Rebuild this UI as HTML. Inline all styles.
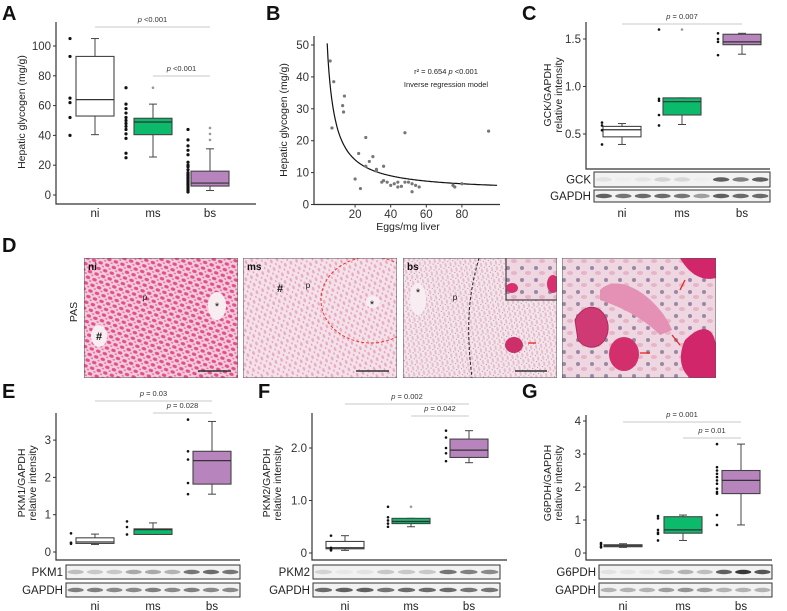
<!DOCTYPE html>
<html><head><meta charset="utf-8"><style>
html,body{margin:0;padding:0;background:#fff}
svg{display:block;font-family:"Liberation Sans",Arial,sans-serif}
</style></head><body>
<svg id="fig" width="787" height="611" viewBox="0 0 787 611" xmlns="http://www.w3.org/2000/svg">
<defs>
<pattern id="patNi" width="7" height="6" patternUnits="userSpaceOnUse" patternTransform="rotate(20)">
<rect width="7" height="6" fill="#f4cddd"/>
<ellipse cx="2.5" cy="2.5" rx="2.3" ry="1.6" fill="#e2508c"/>
<ellipse cx="6" cy="5.2" rx="1.3" ry="0.9" fill="#ea78a5"/>
</pattern>
<pattern id="patMs" width="8" height="6" patternUnits="userSpaceOnUse" patternTransform="rotate(70)">
<rect width="8" height="6" fill="#f4e2e9"/>
<ellipse cx="2.5" cy="2.5" rx="2" ry="1.2" fill="#eca9c4"/>
<ellipse cx="6.5" cy="5" rx="1.2" ry="0.8" fill="#e898ba"/>
</pattern>
<pattern id="patBs" width="6" height="5" patternUnits="userSpaceOnUse" patternTransform="rotate(80)">
<rect width="6" height="5" fill="#f5e6ec"/>
<ellipse cx="2.5" cy="2.2" rx="2.2" ry="1.1" fill="#e8bccd"/>
<circle cx="5.3" cy="4.4" r="0.5" fill="#8a6a80"/>
</pattern>
<pattern id="patZoom" width="14" height="12" patternUnits="userSpaceOnUse">
<rect width="14" height="12" fill="#eed7e1"/>
<circle cx="4" cy="4" r="2" fill="#9b86a8"/>
<ellipse cx="10" cy="9" rx="3" ry="2" fill="#e6b3c8"/>
</pattern>
<clipPath id="clip0"><rect x="84" y="258" width="154" height="120"/></clipPath>
<clipPath id="clip1"><rect x="243" y="258" width="154" height="120"/></clipPath>
<clipPath id="clip2"><rect x="403" y="258" width="154" height="120"/></clipPath>
<clipPath id="clip3"><rect x="562" y="258" width="154" height="120"/></clipPath>
</defs>
</svg>
<script>
// ---------- Panel A data ----------
const groups = ['ni','ms','bs'];
const aStats = [[40.5,53,64,93,105],[25.5,40.5,49,51.5,61],[3,6,8,16,31]];
const aOutliers = [[],[72],[37,41,45]];
const aPoints = [[105,93,65,62,52,40],[72,61,58,55,52,50,48,46,44,41,38,28,25],[44,37,33,30,27,22,20,19,17,15,14,13,12,11,10,9,8,7,6,5,4,3,2]];
const aTicks = [0,20,40,60,80,100];
// ---------- Panel B data ----------
const bEggs = [6,7,8,13,13.5,14,20,22,23,26,26,28,30,32,32,35,36,36,38,40,42,44,44,46,48,48,50,52,52,54,56,75,76,80,95];
const bGly = [45,24,38.5,31,29,34,8,16,5,21,12,13.5,15,11,10.5,7,7.5,12,7,6,6.5,7,5.5,5.7,22.5,7,7,6.5,4,6,5.5,6,5.5,6.5,23];
const bXTicks = [20,40,60,80];
const bYTicks = [0,10,20,30,40,50];
const bFitA = 4, bFitB = 200;
// ---------- Panel C data ----------
const cStats = [[0.39,0.47,0.545,0.58,0.61],[0.6,0.7,0.84,0.88,0.88],[1.34,1.44,1.47,1.55,1.56]];
const cOutliers = [[],[1.6],[]];
const cPoints = [[0.62,0.59,0.54,0.39],[1.6,0.87,0.85,0.70,0.59],[1.56,1.50,1.47,1.33]];
const cTicks = [0.5,1.0,1.5];
const cBandGCK = [0.08,0.02,0.06,0.15,0.12,0.02,0.7,0.55,0.7];
const cBandGAPDH = [0.7,0.6,0.65,0.65,0.6,0.4,0.7,0.65,0.65];
// ---------- Panel E data ----------
const eStats = [[0.2,0.23,0.27,0.38,0.48],[0.47,0.47,0.6,0.62,0.78],[1.55,1.82,2.45,2.7,3.5]];
const ePoints = [[0.5,0.25,0.22],[0.82,0.67,0.47],[3.55,2.7,2.48,1.85,1.55]];
const eTicks = [0,1,2,3];
const eBandPKM1 = [0.25,0.2,0.2,0.35,0.35,0.3,0.6,0.65,0.6];
const eBandGAPDH = [0.55,0.55,0.5,0.5,0.55,0.5,0.55,0.5,0.5];
// ---------- Panel F data ----------
const fStats = [[0.05,0.08,0.1,0.22,0.33],[0.5,0.56,0.6,0.66,0.66],[1.72,1.82,1.96,2.17,2.33]];
const fOutliers = [[],[0.88],[]];
const fPoints = [[0.33,0.1,0.07,0.05],[0.88,0.68,0.62,0.56,0.5],[2.33,2.2,2.0,1.9,1.75]];
const fTicks = [0,1.0,2.0];
const fTickLabels = ['0','1.0','2.0'];
const fBandPKM2 = [0.15,0.05,0.08,0.2,0.2,0.2,0.6,0.55,0.5];
const fBandGAPDH = [0.65,0.7,0.7,0.6,0.65,0.65,0.65,0.6,0.6];
// ---------- Panel G data ----------
const gStats = [[0.17,0.19,0.22,0.25,0.28],[0.38,0.6,0.7,1.1,1.15],[0.85,1.8,2.2,2.5,3.3]];
const gPoints = [[0.3,0.26,0.2,0.17],[1.12,1.05,0.7,0.62,0.58,0.38],[3.3,2.6,2.5,2.4,2.3,2.2,2.1,1.95,1.85,1.8,1.15,0.85]];
const gTicks = [0,1,2,3,4];
const gBandG6 = [0.08,0.06,0.06,0.2,0.3,0.25,0.7,0.9,0.75];
const gBandGAPDH = [0.3,0.3,0.3,0.4,0.45,0.4,0.3,0.3,0.3];

const svg = document.getElementById('fig');
const NS = 'http://www.w3.org/2000/svg';
const fills = ['#ffffff','#0cba6c','#b784bd'];
function mk(tag, attrs, parent){
  const e = document.createElementNS(NS, tag);
  for (const k in attrs) e.setAttribute(k, attrs[k]);
  (parent||svg).appendChild(e);
  return e;
}
function txt(x,y,s,size,anchor,parent,extra){
  const t = mk('text',Object.assign({x:x,y:y,'font-size':size,'text-anchor':anchor||'middle',fill:'#111'},extra||{}),parent);
  t.textContent = s;
  return t;
}
function label(x,y,s,name){
  const t = txt(x,y,s,20,'start',svg,{'font-weight':'bold'});
  
  
}

function boxPanel(cfg){
  const g = mk('g',{});
  
  
  const Y = v => cfg.y0 - (v - cfg.v0) * cfg.ppu;
  const ax = mk('path',{d:`M${cfg.ax},${cfg.top} V${cfg.bottom} H${cfg.right}`,stroke:'#333','stroke-width':1.2,fill:'none'},g);
  
  
  cfg.ticks.forEach((t,i)=>{
    const y = Y(t);
    mk('line',{x1:cfg.ax-3,x2:cfg.ax,y1:y,y2:y,stroke:'#333'},g);
    const tl = txt(cfg.ax-5,y+4,cfg.tickLabels?cfg.tickLabels[i]:String(t),11.5,'end',g,{fill:'#333'});
    
    
  });
  const yt = mk('text',{transform:`translate(${cfg.titleX},${cfg.titleY}) rotate(-90)`,'font-size':10.5,'text-anchor':'middle',fill:'#222'},g);
  
  
  cfg.title.forEach((s,i)=>{ const ts = mk('tspan',{x:0,dy:i===0?0:11},yt); ts.textContent = s; });
  cfg.stats.forEach((s,i)=>{
    const cx = cfg.cx[i], w = cfg.bw;
    const bg = mk('g',{},g);
    
    
    mk('line',{x1:cx,x2:cx,y1:Y(s[0]),y2:Y(s[1]),stroke:'#444'},bg);
    mk('line',{x1:cx,x2:cx,y1:Y(s[3]),y2:Y(s[4]),stroke:'#444'},bg);
    mk('line',{x1:cx-4,x2:cx+4,y1:Y(s[0]),y2:Y(s[0]),stroke:'#444'},bg);
    mk('line',{x1:cx-4,x2:cx+4,y1:Y(s[4]),y2:Y(s[4]),stroke:'#444'},bg);
    mk('rect',{x:cx-w/2,y:Y(s[3]),width:w,height:Math.max(1,Y(s[1])-Y(s[3])),fill:fills[i],stroke:'#444','stroke-width':1.1},bg);
    mk('line',{x1:cx-w/2,x2:cx+w/2,y1:Y(s[2]),y2:Y(s[2]),stroke:'#333','stroke-width':1.2},bg);
    (cfg.outliers ? cfg.outliers[i] : []).forEach(v=>{
      const o = mk('circle',{cx:cx,cy:Y(v),r:1.3,fill:'#999'},bg);
      
      
    });
    cfg.points[i].forEach(v=>{
      const p = mk('circle',{cx:cfg.px[i],cy:Y(v),r:cfg.pr||1.6,fill:'#111'},bg);
      
      
    });
    const xl = txt(cfg.cx[i], cfg.xlabY, groups[i], 11.5, 'middle', g, {fill:'#222'});
    
    
  });
  cfg.sig.forEach(sg=>{
    const sgG = mk('g',{},g);
    
    
    mk('line',{x1:cfg.cx[sg.a],x2:cfg.cx[sg.b],y1:sg.y,y2:sg.y,stroke:'#c8c8c8','stroke-width':1},sgG);
    const t = mk('text',{x:(cfg.cx[sg.a]+cfg.cx[sg.b])/2,y:sg.y-5,'font-size':7.5,'text-anchor':'middle',fill:'#333'},sgG);
    const ti = mk('tspan',{'font-style':'italic'},t); ti.textContent='p';
    const tr = mk('tspan',{},t); tr.textContent=' '+sg.t;
  });
  if (cfg.blots){
    cfg.blots.forEach(b=>{
      const bgp = mk('g',{},g);
      
      
      mk('rect',{x:cfg.blotX,y:b.y,width:cfg.blotW,height:b.h,fill:'#f2f2f2',stroke:'#333','stroke-width':1},bgp);
      const lw = cfg.blotW/9;
      b.vals.forEach((v,k)=>{
        mk('ellipse',{cx:cfg.blotX+lw*(k+0.5),cy:b.y+b.h/2,rx:lw*0.42,ry:2.2,fill:'#222',opacity:v},bgp);
      });
      txt(cfg.blotX-3,b.y+b.h/2+4,b.name,11.5,'end',bgp,{fill:'#222'});
    });
  }
}

// ===== Panel A =====
label(2,20,'A','panel-a-label');
boxPanel({name:'panel-a-glycogen',ax:56,top:22,bottom:204,right:256,y0:195,v0:0,ppu:1.49,ticks:aTicks,
  title:['Hepatic glycogen (mg/g)'],titleX:25,titleY:112,stats:aStats,outliers:aOutliers,points:aPoints,
  cx:[95,153,210],px:[70,126,188],bw:38,xlabY:217,
  sig:[{a:0,b:2,y:27,t:'<0.001'},{a:1,b:2,y:76,t:'<0.001'}]});

// ===== Panel B =====
label(266,20,'B','panel-b-label');
(function(){
  const g = mk('g',{});
  
  
  const X = v => 319.5 + v*1.78, Y = v => 204.5 - v*3.19;
  const ax = mk('path',{d:'M314,36 V204.5 H500',stroke:'#333','stroke-width':1.2,fill:'none'},g);
  
  
  bYTicks.forEach(t=>{ mk('line',{x1:311,x2:314,y1:Y(t),y2:Y(t),stroke:'#333'},g);
    const l = txt(309,Y(t)+4,String(t),11.5,'end',g,{fill:'#333'});
    
     });
  bXTicks.forEach(t=>{ mk('line',{x1:X(t),x2:X(t),y1:204.5,y2:207.5,stroke:'#333'},g);
    const l = txt(X(t),218,String(t),11.5,'middle',g,{fill:'#333'});
    
     });
  const yt = mk('text',{transform:'translate(287,120) rotate(-90)','font-size':10.5,'text-anchor':'middle',fill:'#222'},g);
  yt.textContent = 'Hepatic glycogen (mg/g)';
  
  
  const xt = txt(408,230,'Eggs/mg liver',10.5,'middle',g,{fill:'#222'});
  
  
  let d = '';
  for (let v = 4.3; v <= 100; v += 0.5){ const y = bFitA + bFitB/v; d += (d?'L':'M') + X(v).toFixed(1) + ',' + Y(y).toFixed(1); }
  const fit = mk('path',{d:d,stroke:'#111','stroke-width':1.2,fill:'none'},g);
  
  
  bEggs.forEach((e,i)=>{
    const p = mk('circle',{cx:X(e),cy:Y(bGly[i]),r:1.6,fill:'#777'},g);
    
    
  });
  const a1 = mk('text',{x:446,y:74,'font-size':7.5,'text-anchor':'middle',fill:'#222'},g);
  
  
  a1.innerHTML = 'r² = 0.654 <tspan font-style="italic">p</tspan> &lt;0.001';
  const a2 = txt(446,87,'Inverse regression model',7.5,'middle',g,{fill:'#222'});
  
  
})();

// ===== Panel C =====
label(522,20,'C','panel-c-label');
boxPanel({name:'panel-c-gck',ax:586,top:22,bottom:169,right:770,y0:134,v0:0.5,ppu:95,ticks:cTicks,tickLabels:['0.5','1.0','1.5'],
  title:['GCK/GAPDH','relative intensity'],titleX:551,titleY:95,stats:cStats,outliers:cOutliers,points:cPoints,
  cx:[622,682,742],px:[602,659,718],bw:38,xlabY:217,pr:1.3,
  sig:[{a:0,b:2,y:24,t:'= 0.007'}],
  blotX:594,blotW:176,blots:[{name:'GCK',y:172,h:15,vals:cBandGCK},{name:'GAPDH',y:190,h:12,vals:cBandGAPDH}]});

// ===== Panel D =====
label(2,252,'D','panel-d-label');
(function(){
  const g = mk('g',{});
  
  
  const pas = mk('text',{transform:'translate(77,312) rotate(-90)','font-size':10.5,'text-anchor':'middle',fill:'#222'},g);
  pas.textContent='PAS';
  
  
  const imgs = [{x:84,p:'patNi',n:'ni'},{x:243,p:'patMs',n:'ms'},{x:403,p:'patBs',n:'bs'},{x:562,p:'patZoom',n:''}];
  imgs.forEach((im,i)=>{
    const ig = mk('g',{'clip-path':'url(#clip'+i+')'},g);
    
    
    mk('rect',{x:im.x,y:258,width:154,height:120,fill:'url(#'+im.p+')'},ig);
    if (i===0){ mk('ellipse',{cx:99,cy:336,rx:8,ry:11,fill:'#f8eef2'},ig); mk('ellipse',{cx:217,cy:306,rx:9,ry:14,fill:'#f8eef2'},ig);
      txt(99,340,'#',11,'middle',ig,{'font-weight':'bold'}); txt(217,310,'*',11,'middle',ig); txt(145,300,'p',8,'middle',ig);
      mk('line',{x1:198,x2:231,y1:371,y2:371,stroke:'#333','stroke-width':1.5},ig); }
    if (i===1){ mk('ellipse',{cx:373,cy:302,rx:7,ry:6,fill:'#f8eef2'},ig);
      mk('ellipse',{cx:371,cy:300,rx:50,ry:43,fill:'none',stroke:'#e33','stroke-dasharray':'3,2','stroke-width':1},ig);
      txt(280,292,'#',11,'middle',ig,{'font-weight':'bold'}); txt(308,288,'p',8,'middle',ig); txt(372,308,'*',11,'middle',ig);
      mk('line',{x1:356,x2:389,y1:371,y2:371,stroke:'#333','stroke-width':1.5},ig); }
    if (i===2){ mk('ellipse',{cx:418,cy:299,rx:8,ry:16,fill:'#f8eef2'},ig);
      mk('path',{d:'M479,258 C470,290 465,320 472,378',stroke:'#222','stroke-dasharray':'3,2',fill:'none'},ig);
      mk('rect',{x:506,y:258,width:52,height:42,fill:'url(#patZoom)',stroke:'#222'},ig);
      mk('ellipse',{cx:512,cy:288,rx:6,ry:5,fill:'#d6306e'},ig); mk('ellipse',{cx:553,cy:284,rx:6,ry:9,fill:'#d6306e'},ig);
      mk('ellipse',{cx:514,cy:345,rx:9,ry:8,fill:'#cc2f6a'},ig);
      mk('line',{x1:528,x2:536,y1:343,y2:343,stroke:'#e22','stroke-width':1.3},ig);
      txt(418,296,'*',11,'middle',ig); txt(455,300,'p',8,'middle',ig);
      mk('line',{x1:515,x2:547,y1:371,y2:371,stroke:'#333','stroke-width':1.5},ig);
      mk('line',{x1:558,x2:562,y1:300,y2:378,stroke:'#222'},ig); }
    if (i===3){
      mk('path',{d:'M575,320 C585,300 605,305 608,325 C610,345 590,355 578,340 Z',fill:'#cf3a75',stroke:'#b02a5c'},ig);
      mk('path',{d:'M600,290 C620,270 660,300 672,330 L660,335 C640,315 615,305 600,300 Z',fill:'#e590b5'},ig);
      mk('ellipse',{cx:624,cy:354,rx:15,ry:17,fill:'#d42f6d'},ig);
      mk('path',{d:'M685,340 C705,320 716,330 716,350 L716,378 L690,378 C680,370 678,355 685,340 Z',fill:'#d1266a'},ig);
      mk('path',{d:'M680,258 L716,258 L716,278 C700,282 688,272 680,258 Z',fill:'#d1266a'},ig);
      mk('line',{x1:640,x2:650,y1:353,y2:353,stroke:'#e22','stroke-width':1.3},ig);
      mk('line',{x1:672,x2:680,y1:335,y2:345,stroke:'#e22','stroke-width':1.3},ig);
      mk('line',{x1:680,x2:685,y1:290,y2:280,stroke:'#e22','stroke-width':1.3},ig); }
    mk('rect',{x:im.x,y:258,width:154,height:120,fill:'none',stroke:'#555'},ig);
    if (im.n) txt(im.x+4,270,im.n,10,'start',ig,{'font-weight':'bold'});
  });
})();

// ===== Panel E =====
label(2,398,'E','panel-e-label');
boxPanel({name:'panel-e-pkm1',ax:56,top:413,bottom:560,right:240,y0:552,v0:0,ppu:37.3,ticks:eTicks,
  title:['PKM1/GAPDH','relative intensity'],titleX:25,titleY:483,stats:eStats,points:ePoints,
  cx:[95,153,212],px:[71,127,188],bw:38,xlabY:610,pr:1.3,
  sig:[{a:0,b:2,y:401,t:'= 0.03'},{a:1,b:2,y:413,t:'= 0.028'}],
  blotX:66,blotW:174,blots:[{name:'PKM1',y:565,h:14,vals:eBandPKM1},{name:'GAPDH',y:583,h:14,vals:eBandGAPDH}]});

// ===== Panel F =====
label(258,398,'F','panel-f-label');
boxPanel({name:'panel-f-pkm2',ax:312,top:413,bottom:560,right:507,y0:553,v0:0,ppu:52.5,ticks:fTicks,tickLabels:fTickLabels,
  title:['PKM2/GAPDH','relative intensity'],titleX:270,titleY:483,stats:fStats,outliers:fOutliers,points:fPoints,
  cx:[345,411,469],px:[331,388,446],bw:38,xlabY:610,pr:1.3,
  sig:[{a:0,b:2,y:404,t:'= 0.002'},{a:1,b:2,y:416,t:'= 0.042'}],
  blotX:313,blotW:187,blots:[{name:'PKM2',y:565,h:14,vals:fBandPKM2},{name:'GAPDH',y:583,h:14,vals:fBandGAPDH}]});

// ===== Panel G =====
label(522,398,'G','panel-g-label');
boxPanel({name:'panel-g-g6pdh',ax:586,top:415,bottom:560,right:772,y0:553,v0:0,ppu:33,ticks:gTicks,
  title:['G6PDH/GAPDH','relative intensity'],titleX:551,titleY:483,stats:gStats,points:gPoints,
  cx:[623,683,741],px:[601,658,717],bw:38,xlabY:610,pr:1.3,
  sig:[{a:0,b:2,y:422,t:'= 0.001'},{a:1,b:2,y:438,t:'= 0.01'}],
  blotX:599,blotW:173,blots:[{name:'G6PDH',y:565,h:14,vals:gBandG6},{name:'GAPDH',y:583,h:14,vals:gBandGAPDH}]});
</script>
</body></html>
